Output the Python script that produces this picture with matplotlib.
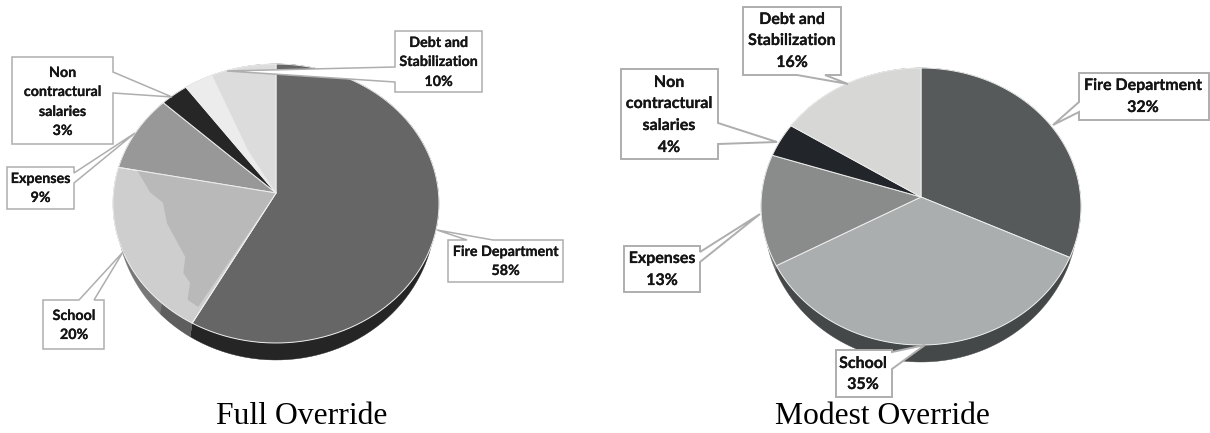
import numpy as np
import matplotlib
matplotlib.use('Agg')
import matplotlib.pyplot as plt
from matplotlib.patches import Polygon
import matplotlib.patheffects as pe

categories = ['Fire Department', 'School', 'Expenses', 'Non contractural salaries', 'Debt and Stabilization']
full_override = [58, 20, 9, 3, 10]
modest_override = [32, 35, 13, 4, 16]

# greys of the top faces and the side wall, same order as categories
full_colors = ['#666666', '#cecece', '#989898', '#262626', '#dcdcdc']
full_wall = ['#252525', '#777777', '#777777', '#777777', '#777777']
modest_colors = ['#565a5a', '#abaeae', '#8a8c8c', '#22262a', '#d7d7d5']
modest_wall = ['#6c6e6e', '#454848', '#6e7070', '#6e7070', '#6e7070']

# banded shading on the full pie: (share position, fraction of radius)
school_band = [(78.0, .88), (75.1, .775), (73.4, .695), (70.0, .694), (64.0, .70),
               (62.4, .778), (60.9, .797), (59.8, .891), (58.4, .896)]
debt_band = [(91.9, .363)]


def project(pos, radius, cx, cy, rx, top, bottom):
    # tilted disc: the hub sits above the middle of the ellipse
    k = (top - bottom) / (top + bottom)
    b = top * (1 - k)
    a = rx * np.sqrt(1 - k ** 2)
    t = np.radians(np.asarray(pos, dtype=float) * 3.6)
    x = np.sin(t) * radius
    y = np.cos(t) * radius
    den = 1 - k * y
    return cx + a * x / den, cy - b * y / den


def rim(start, end, *disc):
    pos = np.linspace(start, end, 90)
    return np.column_stack(project(pos, 1.0, *disc))


def draw_pie(ax, shares, colors, wall_colors, hub, rx, top, bottom, wall_rx, wall_bottom):
    cx, cy = hub
    disc = (cx, cy, rx, top, bottom)
    wall = (cx, cy, wall_rx, top, wall_bottom)
    edges = np.concatenate([[0], np.cumsum(shares)])
    for i in range(len(shares)):
        outer = rim(edges[i], edges[i + 1], *wall)
        inner = rim(edges[i], edges[i + 1], *disc)
        ax.add_patch(Polygon(np.vstack([outer, inner[::-1]]), fc=wall_colors[i], ec=wall_colors[i], lw=.3, zorder=1))
    for i in range(len(shares)):
        pts = np.vstack([[hub], rim(edges[i], edges[i + 1], *disc)])
        ax.add_patch(Polygon(pts, fc=colors[i], ec='#eeeeee', lw=.7, zorder=2))
    return disc, wall, edges


def callout(ax, box, side, a, b, tip, lines, cx, ys, size=10.3, lw=1.1):
    x0, y0, x1, y1 = box
    if side == 'left':
        pts = [(x0, y0), (x1, y0), (x1, y1), (x0, y1), (x0, b), tip, (x0, a)]
    elif side == 'right':
        pts = [(x0, y0), (x1, y0), (x1, a), tip, (x1, b), (x1, y1), (x0, y1)]
    elif side == 'top':
        pts = [(x0, y0), (a, y0), tip, (b, y0), (x1, y0), (x1, y1), (x0, y1)]
    else:
        pts = [(x0, y0), (x1, y0), (x1, y1), (b, y1), tip, (a, y1), (x0, y1)]
    ax.add_patch(Polygon(pts, fc='white', ec='#aeaeae', lw=lw, zorder=5, joinstyle='miter'))
    for txt, y in zip(lines, ys):
        t = ax.text(cx, y, txt, ha='center', va='center', family='Lato', weight='bold',
                    fontsize=size, color='#151515', zorder=6)
        t.set_path_effects([pe.withStroke(linewidth=.15, foreground='#151515')])


fig = plt.figure(figsize=(12.10, 4.33), dpi=100)
ax = fig.add_axes([0, 0, 1, 1])
ax.set_xlim(0, 1210)
ax.set_ylim(433, 0)
ax.axis('off')

# left pie
hub = (276, 193)
disc, wall, edges = draw_pie(ax, full_override, full_colors, full_wall, hub, 163, 129, 150, 159.5, 167)
pos = [p for p, r in school_band]
rad = np.array([r for p, r in school_band])
ax.add_patch(Polygon(np.vstack([[hub], np.column_stack(project(pos, rad, *disc))]),
                     fc='#b9b9b9', ec='none', zorder=3))
ax.plot(*zip(hub, project(edges[1], 1.0, *disc)), color='#eeeeee', lw=.7, zorder=3)
ax.plot(*zip(hub, project(edges[2], 1.0, *disc)), color='#eeeeee', lw=.7, zorder=3)
light = rim(edges[4], 93.1, *disc)
pos = [p for p, r in debt_band]
rad = np.array([r for p, r in debt_band])
ax.add_patch(Polygon(np.vstack([[hub], light, np.column_stack(project(pos, rad, *disc))]),
                     fc='#ececec', ec='none', zorder=3))
# darker stretch of the school wall next to the seam
wall_dark = np.vstack([rim(edges[1], 61.5, *wall), rim(edges[1], 61.5, *disc)[::-1]])
ax.add_patch(Polygon(wall_dark, fc='#5e5e5e', ec='none', zorder=1.5))

# right pie
draw_pie(ax, modest_override, modest_colors, modest_wall, (921, 197), 160, 129, 148, 157, 165)

callout(ax, (395, 31, 482, 92), 'left', 67, 82, (227, 71),
        ['Debt and', 'Stabilization', f'{full_override[4]}%'], 438.5, [43, 62, 82])
callout(ax, (12, 57, 113, 144), 'right', 72, 93, (172, 97),
        ['Non', 'contractural', 'salaries', f'{full_override[3]}%'], 62.5, [73, 92, 112, 131])
callout(ax, (7, 167, 74, 209), 'right', 173, 183, (135, 133),
        ['Expenses', f'{full_override[2]}%'], 40.5, [179, 198])
callout(ax, (448, 240, 563, 282), 'top', 467, 493, (437, 230),
        ['Fire Department', f'{full_override[0]}%'], 505.5, [252, 271])
callout(ax, (43, 300, 104, 349), 'top', 79, 94, (123, 252),
        ['School', f'{full_override[1]}%'], 74, [316, 335])

callout(ax, (743, 7, 841, 75), 'bottom', 797, 825, (848, 84),
        ['Debt and', 'Stabilization', f'{modest_override[4]}%'], 792, [20, 41, 63], size=11.5, lw=1.4)
callout(ax, (621, 69, 718, 159), 'right', 123, 144, (777, 142),
        ['Non', 'contractural', 'salaries', f'{modest_override[3]}%'], 669, [83, 104, 126, 148], size=11.5, lw=1.4)
callout(ax, (1079, 73, 1209, 120), 'left', 102, 112, (1053, 125),
        ['Fire Department', f'{modest_override[0]}%'], 1143, [86, 108], size=11.5, lw=1.4)
callout(ax, (624, 246, 700, 292), 'right', 252, 262, (760, 214),
        ['Expenses', f'{modest_override[2]}%'], 662, [259, 281], size=11.5, lw=1.4)
callout(ax, (836, 350, 892, 397), 'right', 352, 369, (925, 345),
        ['School', f'{modest_override[1]}%'], 863, [364, 385], size=11.5, lw=1.4)

ax.text(302, 417, 'Full Override', ha='center', va='center', family='Liberation Serif', fontsize=22.8, color='black')
ax.text(882, 417, 'Modest Override', ha='center', va='center', family='Liberation Serif', fontsize=22.8, color='black')

fig.savefig('out.png', dpi=100)
